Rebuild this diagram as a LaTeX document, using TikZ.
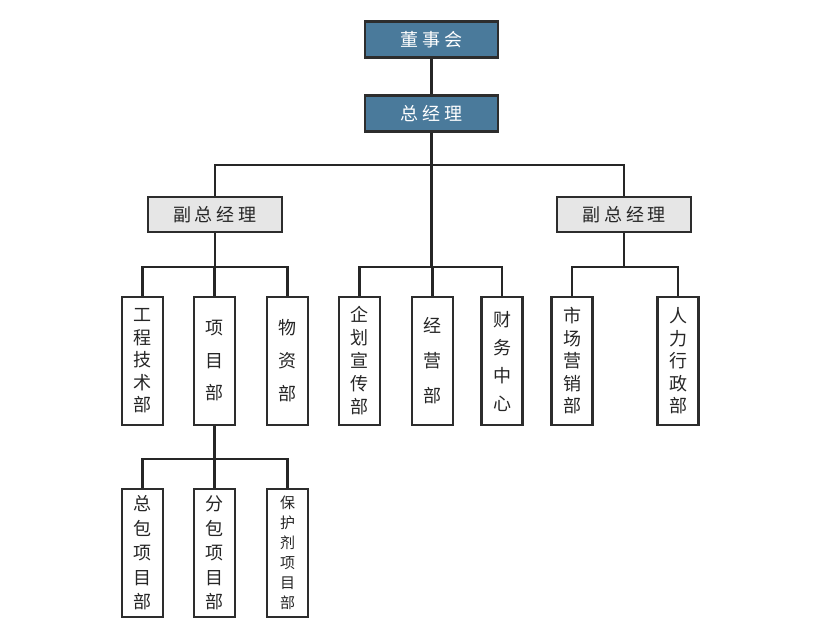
\documentclass[tikz,border=0pt]{standalone}
\usepackage{fontspec}
\newfontfamily\cjk{Noto Sans CJK SC}
\definecolor{topblue}{RGB}{74,122,155}
\definecolor{vpgray}{RGB}{230,230,230}
\definecolor{edgegray}{RGB}{45,45,45}
\newcommand\gp{\hspace{4pt}}
\tikzset{
  topbox/.style={draw=edgegray, line width=2.2pt, fill=topblue, text=white, minimum width=133pt, minimum height=36pt, inner sep=0pt, font=\cjk\fontsize{18}{20}\selectfont},
  vpbox/.style={draw=edgegray, line width=2.2pt, fill=vpgray, text=black!85, minimum width=134pt, minimum height=35pt, inner sep=0pt, font=\cjk\fontsize{18}{20}\selectfont},
  vbox/.style={draw=edgegray, line width=2.2pt, fill=white, text=black!85, minimum width=41pt, minimum height=128pt, inner sep=0pt, align=center},
  conn/.style={draw=black!85, line width=2.4pt}
}
\begin{document}
\begin{tikzpicture}[x=1pt,y=1pt]
\useasboundingbox (0,0) rectangle (821,-640);
% top
\node[topbox] (bd) at (431.5,-39.5) {董\gp 事\gp 会};
\node[topbox] (gm) at (431.5,-113.5) {总\gp 经\gp 理};
\node[vpbox] (vpL) at (215,-214.5) {副\gp 总\gp 经\gp 理};
\node[vpbox] (vpR) at (624,-214.5) {副\gp 总\gp 经\gp 理};
% departments
\node[vbox, font=\cjk\fontsize{18}{22.5}\selectfont] (d1) at (142.5,-361) {工\\程\\技\\术\\部};
\node[vbox, font=\cjk\fontsize{18}{32.5}\selectfont] (d2) at (214.5,-361) {项\\目\\部};
\node[vbox, font=\cjk\fontsize{18}{33}\selectfont] (d3) at (287.5,-361) {物\\资\\部};
\node[vbox, font=\cjk\fontsize{18}{23}\selectfont] (d4) at (359.5,-361) {企\\划\\宣\\传\\部};
\node[vbox, font=\cjk\fontsize{18}{35}\selectfont] (d5) at (432.5,-361) {经\\营\\部};
\node[vbox, font=\cjk\fontsize{18}{28}\selectfont] (d6) at (502,-361) {财\\务\\中\\心};
\node[vbox, font=\cjk\fontsize{18}{22.5}\selectfont] (d7) at (572,-361) {市\\场\\营\\销\\部};
\node[vbox, font=\cjk\fontsize{18}{22.5}\selectfont] (d8) at (678,-361) {人\\力\\行\\政\\部};
% project sub-departments
\node[vbox, font=\cjk\fontsize{18}{24.5}\selectfont] (b1) at (142.5,-553) {总\\包\\项\\目\\部};
\node[vbox, font=\cjk\fontsize{18}{24.5}\selectfont] (b2) at (214.5,-553) {分\\包\\项\\目\\部};
\node[vbox, font=\cjk\fontsize{15}{20}\selectfont] (b3) at (287.5,-553) {保\\护\\剂\\项\\目\\部};
% junctions
\coordinate (j1) at (431.5,-165);
\coordinate (j2) at (431.5,-267);
\coordinate (j3) at (215,-267);
\coordinate (j4) at (624,-267);
\coordinate (j5) at (214.5,-459);
% connectors
\draw[conn] (bd.south) -- (gm.north);
\draw[conn] (gm.south) -- (j1);
\draw[conn] (vpL.north) |- (j1) -| (vpR.north);
\draw[conn] (j1) -- (j2);
\draw[conn] (d4.north) |- (j2) -| (d6.north);
\draw[conn] (d5.north) -- (d5.north |- j2);
\draw[conn] (vpL.south) -- (j3);
\draw[conn] (d1.north) |- (j3) -| (d3.north);
\draw[conn] (d2.north) -- (d2.north |- j3);
\draw[conn] (vpR.south) -- (j4);
\draw[conn] (d7.north) |- (j4) -| (d8.north);
\draw[conn] (d2.south) -- (j5);
\draw[conn] (b1.north) |- (j5) -| (b3.north);
\draw[conn] (b2.north) -- (j5);
\end{tikzpicture}
\end{document}
